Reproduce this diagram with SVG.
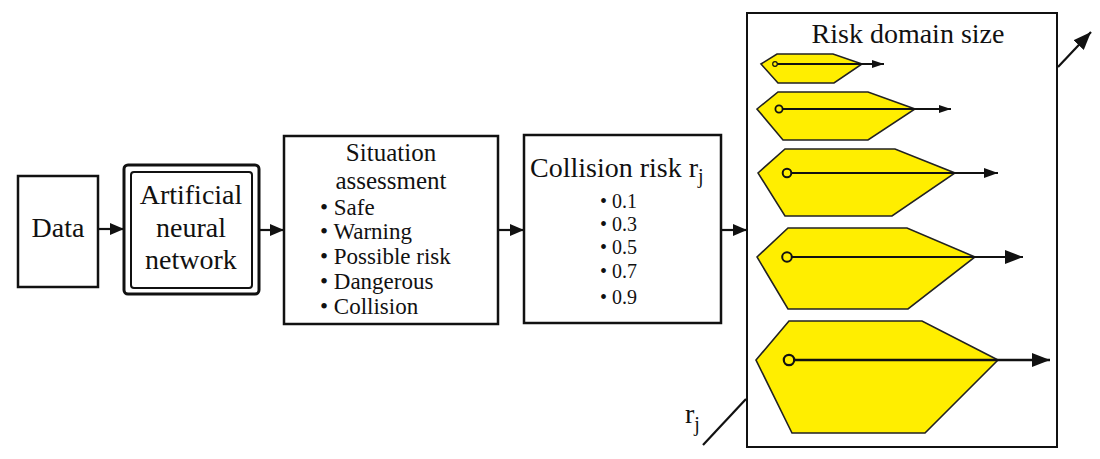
<svg xmlns="http://www.w3.org/2000/svg" width="1100" height="459" viewBox="0 0 1100 459">
<defs>
<style>
.box{fill:#fff;stroke:#111;stroke-width:2.5}
.c{stroke:#111;stroke-width:2.2;fill:none}
.hex{fill:#ffee00;stroke:#222;stroke-width:1.6;stroke-linejoin:miter}
.ax{stroke:#111;fill:none}
.dot{fill:#ffee00;stroke:#111}
</style>
<marker id="ah" markerUnits="userSpaceOnUse" markerWidth="14" markerHeight="12" viewBox="0 0 14 12" refX="13" refY="6" orient="auto">
<path d="M0,0 L14,6 L0,12 Z" fill="#111"/>
</marker>
<marker id="ahs" markerUnits="userSpaceOnUse" markerWidth="12" markerHeight="8" viewBox="0 0 12 8" refX="12" refY="4" orient="auto">
<path d="M0,0 L12,4 L0,8 Z" fill="#111"/>
</marker>
<marker id="ahm" markerUnits="userSpaceOnUse" markerWidth="14" markerHeight="10" viewBox="0 0 14 10" refX="14" refY="5" orient="auto">
<path d="M0,0 L14,5 L0,10 Z" fill="#111"/>
</marker>
<marker id="ahl" markerUnits="userSpaceOnUse" markerWidth="18" markerHeight="14" viewBox="0 0 18 14" refX="18" refY="7" orient="auto">
<path d="M0,0 L18,7 L0,14 Z" fill="#111"/>
</marker>
</defs>
<rect width="1100" height="459" fill="#fff"/>

<g font-family="Liberation Serif, DejaVu Serif, serif" fill="#111">
<g id="data">
<rect class="box" x="18" y="176" width="80" height="111"/>
<text x="58" y="237" font-size="28" text-anchor="middle">Data</text>
</g>

<g id="ann">
<rect x="124" y="165" width="135" height="129" rx="4" fill="#fff" stroke="#111" stroke-width="3"/>
<rect x="131" y="172" width="121" height="116" rx="3" fill="none" stroke="#111" stroke-width="2"/>
<text x="191" y="204" font-size="28" text-anchor="middle">Artificial</text>
<text x="191" y="237" font-size="28" text-anchor="middle">neural</text>
<text x="191" y="269" font-size="28" text-anchor="middle">network</text>
</g>

<g id="situation">
<rect class="box" x="284" y="136" width="214" height="188"/>
<text x="391" y="161" font-size="25" text-anchor="middle">Situation</text>
<text x="391" y="189" font-size="25" text-anchor="middle">assessment</text>
<text x="320" y="215" font-size="23">• Safe</text>
<text x="320" y="239" font-size="23">• Warning</text>
<text x="320" y="264" font-size="23">• Possible risk</text>
<text x="320" y="289" font-size="23">• Dangerous</text>
<text x="320" y="314" font-size="23">• Collision</text>
</g>

<g id="collision">
<rect class="box" x="524" y="135" width="197" height="188"/>
<text x="530" y="177" font-size="28">Collision risk r<tspan font-size="20" dy="6">j</tspan></text>
<text x="600" y="208" font-size="20">• 0.1</text>
<text x="600" y="231" font-size="20">• 0.3</text>
<text x="600" y="254" font-size="20">• 0.5</text>
<text x="600" y="278" font-size="20">• 0.7</text>
<text x="600" y="304" font-size="20">• 0.9</text>
</g>

<g id="risk-domain">
<rect x="747" y="13" width="310" height="434" fill="#fff" stroke="#111" stroke-width="2"/>
<text x="908" y="43" font-size="28" text-anchor="middle">Risk domain size</text>
<polygon class="hex" points="761,64 777,54 833,54 862,64 834,83 778,83"/>
<line class="ax" x1="777" y1="64" x2="884" y2="64" stroke-width="1.8" marker-end="url(#ahs)"/>
<circle class="dot" cx="775" cy="64" r="2.3" stroke-width="1.2"/>
<polygon class="hex" points="757,109 778,92 868,92 915,109 868,140 783,140"/>
<line class="ax" x1="782" y1="109" x2="951" y2="109" stroke-width="2" marker-end="url(#ahs)"/>
<circle class="dot" cx="779" cy="109" r="3.6" stroke-width="1.8"/>
<polygon class="hex" points="758,173 785,149 895,149 955,173 892,216 785,216"/>
<line class="ax" x1="791" y1="173" x2="998" y2="173" stroke-width="2.2" marker-end="url(#ahm)"/>
<circle class="dot" cx="787" cy="173" r="4.3" stroke-width="2"/>
<polygon class="hex" points="757,257 788,228 907,228 975,257 908,309 788,309"/>
<line class="ax" x1="792" y1="257" x2="1023" y2="257" stroke-width="2.2" marker-end="url(#ahl)"/>
<circle class="dot" cx="787" cy="257" r="4.8" stroke-width="2"/>
<polygon class="hex" points="756,360 789,321 922,321 998,360 925,433 792,433"/>
<line class="ax" x1="794" y1="360" x2="1050" y2="360" stroke-width="2.4" marker-end="url(#ahl)"/>
<circle class="dot" cx="789" cy="360" r="5.2" stroke-width="2.2"/>
</g>

<g id="rj-label">
<text x="685" y="423" font-size="28">r<tspan font-size="20" dy="8">j</tspan></text>
</g>
</g>

<g id="connectors">
<line class="c" x1="98" y1="229" x2="123" y2="229" marker-end="url(#ah)"/>
<line class="c" x1="259" y1="230" x2="283" y2="230" marker-end="url(#ah)"/>
<line class="c" x1="498" y1="230" x2="523" y2="230" marker-end="url(#ah)"/>
<line class="c" x1="721" y1="230" x2="746" y2="230" marker-end="url(#ah)"/>
<line class="c" x1="1058" y1="67" x2="1091" y2="32" stroke-width="2" marker-end="url(#ahl)"/>
<line class="c" x1="703" y1="445" x2="746" y2="399" stroke-width="2"/>
</g>
</svg>
